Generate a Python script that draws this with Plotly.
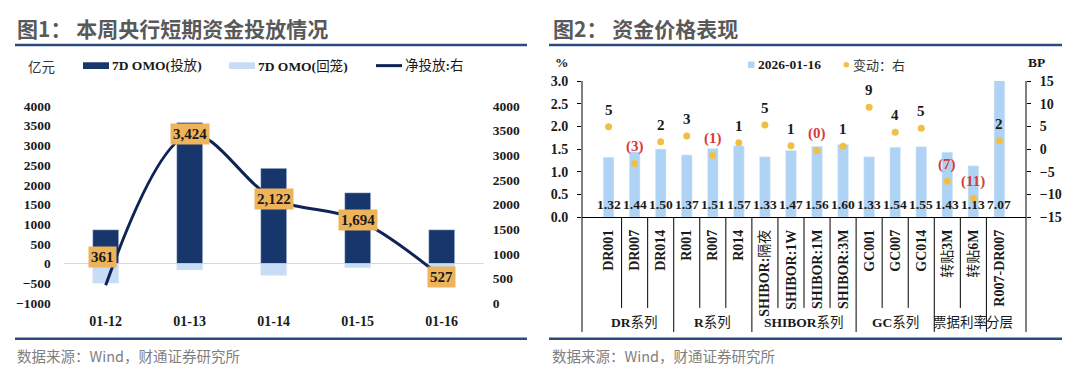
import plotly.graph_objects as go

W, H = 1080, 388

# ---------------- data: chart 1 ----------------
dates = ["01-12", "01-13", "01-14", "01-15", "01-16"]
omo_inject = [860, 3585, 2420, 1800, 860]
omo_withdraw = [-499, -161, -298, -106, -333]
net_injection = [361, 3424, 2122, 1694, 527]
left_series_names = ["7D OMO(投放)", "7D OMO(回笼)", "净投放:右"]
left_yticks = list(range(-1000, 4001, 500))
right_yticks_1 = list(range(0, 4001, 500))

# ---------------- data: chart 2 ----------------
rate_names = ["DR001", "DR007", "DR014", "R001", "R007", "R014",
              "SHIBOR:隔夜", "SHIBOR:1W", "SHIBOR:1M", "SHIBOR:3M",
              "GC001", "GC007", "GC014", "转贴3M", "转贴6M", "R007-DR007"]
rate_values = [1.32, 1.44, 1.50, 1.37, 1.51, 1.57, 1.33, 1.47, 1.56, 1.60,
               1.33, 1.54, 1.55, 1.43, 1.13, 7.07]
rate_change_bp = [4.9, -3.2, 1.6, 2.9, -1.4, 1.4, 5.3, 0.7, -0.3, 0.6,
                  9.2, 3.7, 4.6, -7.1, -10.9, 1.8]
group_names = ["DR系列", "R系列", "SHIBOR系列", "GC系列", "票据利率", "分层"]
group_sizes = [3, 3, 4, 3, 2, 1]
right_series_names = ["2026-01-16", "变动：右"]

# ---------------- styles ----------------
SERIF = "Liberation Serif, Times New Roman, Noto Sans CJK SC"
SANS = "Noto Sans CJK SC, Noto Sans, sans-serif"
DARK = "#17376c"
LIGHT = "#c6ddf5"
NAVY = "#0f2456"
LABEL_BG = "#eeb45c"
RBAR = "#aed3f4"
GOLD = "#f2bf45"
RED = "#d93a3a"
RULE = "#2a4b7b"
TXT = "#1a1a1a"
label_yshift = [28, 0, 0, 0, 0]
label_xshift = [-3, 0, 0, 0, 0]


def px(x):
    return x / W


def py(y):
    return 1 - y / H


def bold_latin(s):
    # bold the latin part, keep CJK parts regular
    out, buf, is_cjk = "", "", None
    for ch in s:
        c = ord(ch) > 0x2E80
        if is_cjk is None or c == is_cjk:
            buf += ch
        else:
            out += buf if is_cjk else f"<b>{buf}</b>"
            buf = ch
        is_cjk = c
    out += buf if is_cjk else f"<b>{buf}</b>"
    return out


fig = go.Figure()

# chart 1 traces
fig.add_trace(go.Bar(x=dates, y=omo_inject, name=left_series_names[0],
                     marker_color=DARK, width=0.31, xaxis="x", yaxis="y"))
fig.add_trace(go.Bar(x=dates, y=omo_withdraw, name=left_series_names[1],
                     marker_color=LIGHT, width=0.31, xaxis="x", yaxis="y"))
fig.add_trace(go.Scatter(x=dates, y=net_injection, name=left_series_names[2],
                         mode="lines", line=dict(color=NAVY, width=3, shape="spline"),
                         xaxis="x", yaxis="y2"))

# chart 2 traces
fig.add_trace(go.Bar(x=rate_names, y=rate_values, name=right_series_names[0],
                     marker_color=RBAR, width=0.41, xaxis="x2", yaxis="y3"))
fig.add_trace(go.Scatter(x=rate_names, y=rate_change_bp, name=right_series_names[1],
                         mode="markers", marker=dict(color=GOLD, size=7),
                         xaxis="x2", yaxis="y4"))

annotations = []
shapes = []

# change labels (chart 2)
for n, v in zip(rate_names, rate_change_bp):
    txt = f"({abs(round(v))})" if v < 0 else f"{round(v)}"
    annotations.append(dict(x=n, y=v, xref="x2", yref="y4", text=txt, showarrow=False,
                            yanchor="middle", yshift=17,
                            font=dict(family=SERIF, size=15, color=RED if v < 0 else TXT,
                                      weight="bold")))

# net injection labels
for i, (d, v) in enumerate(zip(dates, net_injection)):
    annotations.append(dict(x=d, y=v, xref="x", yref="y2", text=f"{v:,}",
                            showarrow=False, bgcolor=LABEL_BG, borderpad=2,
                            yshift=label_yshift[i], xshift=label_xshift[i],
                            font=dict(family=SERIF, size=15, color=TXT, weight="bold")))

# bar value labels (chart 2)
for n, v in zip(rate_names, rate_values):
    annotations.append(dict(x=n, y=0, xref="x2", yref="y3", text=f"{v:.2f}",
                            showarrow=False, yanchor="middle", yshift=13,
                            font=dict(family=SERIF, size=13.5, color=TXT, weight="bold")))

# titles
annotations.append(dict(x=px(15), y=py(22), xref="paper", yref="paper", xanchor="left",
                        yanchor="middle", showarrow=False, text="图1： 本周央行短期资金投放情况",
                        font=dict(family=SANS, size=21, color="#595959", weight="bold")))
annotations.append(dict(x=px(551), y=py(22), xref="paper", yref="paper", xanchor="left",
                        yanchor="middle", showarrow=False, text="图2： 资金价格表现",
                        font=dict(family=SANS, size=21, color="#595959", weight="bold")))
for x0, x1 in [(15, 527), (549, 1062)]:
    shapes.append(dict(type="line", xref="paper", yref="paper", x0=px(x0), x1=px(x1),
                       y0=py(39.5), y1=py(39.5), line=dict(color=RULE, width=2.5)))
    shapes.append(dict(type="line", xref="paper", yref="paper", x0=px(x0), x1=px(x1),
                       y0=py(345), y1=py(345), line=dict(color=RULE, width=2.5)))
for x0 in [15, 550]:
    annotations.append(dict(x=px(x0), y=py(362), xref="paper", yref="paper", xanchor="left",
                            yanchor="middle", showarrow=False, text="数据来源：Wind，财通证券研究所",
                            font=dict(family=SANS, size=14.5, color="#7f7f7f")))

# chart 1 legend
LY = 61
annotations.append(dict(x=px(26), y=py(LY), xref="paper", yref="paper", xanchor="left",
                        yanchor="middle", showarrow=False, text="亿元",
                        font=dict(family=SANS, size=13.5, color="#333333")))
leg1 = [(83, DARK, "rect"), (229, LIGHT, "rect"), (376, NAVY, "line")]
for (x0, col, kind), name in zip(leg1, left_series_names):
    if kind == "rect":
        shapes.append(dict(type="rect", xref="paper", yref="paper", x0=px(x0), x1=px(x0 + 26),
                           y0=py(LY + 3.5), y1=py(LY - 3.5), fillcolor=col, line=dict(width=0)))
    else:
        shapes.append(dict(type="line", xref="paper", yref="paper", x0=px(x0), x1=px(x0 + 26),
                           y0=py(LY), y1=py(LY), line=dict(color=col, width=3)))
    annotations.append(dict(x=px(x0 + 27), y=py(LY), xref="paper", yref="paper", xanchor="left",
                            yanchor="middle", showarrow=False, text=bold_latin(name),
                            font=dict(family=SERIF, size=13.5, color=TXT)))

# chart 2 legend
RY = 60
shapes.append(dict(type="rect", xref="paper", yref="paper", x0=px(748), x1=px(754.5),
                   y0=py(RY + 3.3), y1=py(RY - 3.3), fillcolor=RBAR, line=dict(width=0)))
annotations.append(dict(x=px(756), y=py(RY), xref="paper", yref="paper", xanchor="left",
                        yanchor="middle", showarrow=False, text=right_series_names[0],
                        font=dict(family=SERIF, size=13.5, color=TXT, weight="bold")))
shapes.append(dict(type="circle", xref="paper", yref="paper", x0=px(843.5), x1=px(849),
                   y0=py(RY + 2.8), y1=py(RY - 2.8), fillcolor=GOLD, line=dict(width=0)))
annotations.append(dict(x=px(851), y=py(RY), xref="paper", yref="paper", xanchor="left",
                        yanchor="middle", showarrow=False, text=right_series_names[1],
                        font=dict(family=SANS, size=13, color="#333333")))
annotations.append(dict(x=px(562), y=py(58), xref="paper", yref="paper", xanchor="center",
                        yanchor="middle", showarrow=False, text="%",
                        font=dict(family=SERIF, size=13.5, color=TXT, weight="bold")))
annotations.append(dict(x=px(1036), y=py(58), xref="paper", yref="paper", xanchor="center",
                        yanchor="middle", showarrow=False, text="BP",
                        font=dict(family=SERIF, size=13.5, color=TXT, weight="bold")))

# chart 2 axis extension lines & category separators
R_TOP, R_BOT, SHORT_BOT, LONG_BOT = 77, 218.5, 313, 338
for xd in [0, 1]:
    shapes.append(dict(type="line", xref="x2 domain", yref="paper", x0=xd, x1=xd,
                       y0=py(LONG_BOT), y1=py(R_TOP), line=dict(color="black", width=1)))
group_edges = []
acc = 0
for s in group_sizes:
    acc += s
    group_edges.append(acc)
for i in range(1, len(rate_names)):
    bottom = LONG_BOT if i in group_edges else SHORT_BOT
    shapes.append(dict(type="line", xref="x2", yref="paper", x0=i - 0.5, x1=i - 0.5,
                       y0=py(bottom), y1=py(R_BOT), line=dict(color="black", width=1)))
start = 0
for g, s in zip(group_names, group_sizes):
    center = start + (s - 1) / 2
    start += s
    annotations.append(dict(x=center, y=py(328), xref="x2", yref="paper", text=bold_latin(g),
                            showarrow=False, yanchor="middle",
                            font=dict(family=SERIF, size=13.5, color=TXT)))

tick_bold = dict(family=SERIF, size=13.5, color=TXT, weight="bold")

fig.update_layout(
    width=W, height=H, margin=dict(l=0, r=0, t=0, b=0),
    paper_bgcolor="white", plot_bgcolor="white", showlegend=False,
    barmode="relative",
    xaxis=dict(type="category", domain=[px(63.7), px(483.7)], anchor="y", showline=False, ticks="",
               showgrid=False, zeroline=False, tickfont=dict(family=SERIF, size=14, color=TXT, weight="bold"),
               ticklabelstandoff=8),
    yaxis=dict(domain=[py(308), py(103)], anchor="x", range=[-1000, 4000], tickvals=left_yticks,
               showgrid=False, zeroline=True, zerolinecolor="#d9d9d9", zerolinewidth=1,
               showline=False, ticks="", tickfont=tick_bold, ticklabelstandoff=12),
    yaxis2=dict(overlaying="y", side="right", anchor="x", range=[0, 4000], tickvals=right_yticks_1,
                showgrid=False, zeroline=False, showline=False, ticks="", tickfont=tick_bold,
                ticklabelstandoff=8),
    xaxis2=dict(type="category", domain=[px(582), px(1026)], anchor="y3", showline=True, linecolor="black",
                linewidth=1, ticks="", showgrid=False, zeroline=False, tickangle=-90,
                tickvals=rate_names, ticktext=[bold_latin(n) for n in rate_names],
                tickfont=dict(family=SERIF, size=14, color=TXT),
                ticklabelstandoff=6),
    yaxis3=dict(domain=[py(R_BOT), py(R_TOP)], anchor="x2", range=[0, 3], dtick=0.5,
                tickformat=".1f", showgrid=False, zeroline=False, showline=False,
                ticks="outside", ticklen=4, tickcolor="black", tickfont=dict(family=SERIF, size=14, color=TXT, weight="bold"),
                ticklabelstandoff=6),
    yaxis4=dict(overlaying="y3", side="right", anchor="x2", range=[-15, 15], dtick=5,
                showgrid=False, zeroline=False, showline=False, ticks="outside", ticklen=4,
                tickcolor="black", tickfont=dict(family=SERIF, size=14, color=TXT, weight="bold"),
                ticklabelstandoff=6),
    annotations=annotations, shapes=shapes,
)

fig.write_html("out.html", config={"displayModeBar": False},
               post_script="document.body.style.margin='0px';document.body.style.padding='0px';")
